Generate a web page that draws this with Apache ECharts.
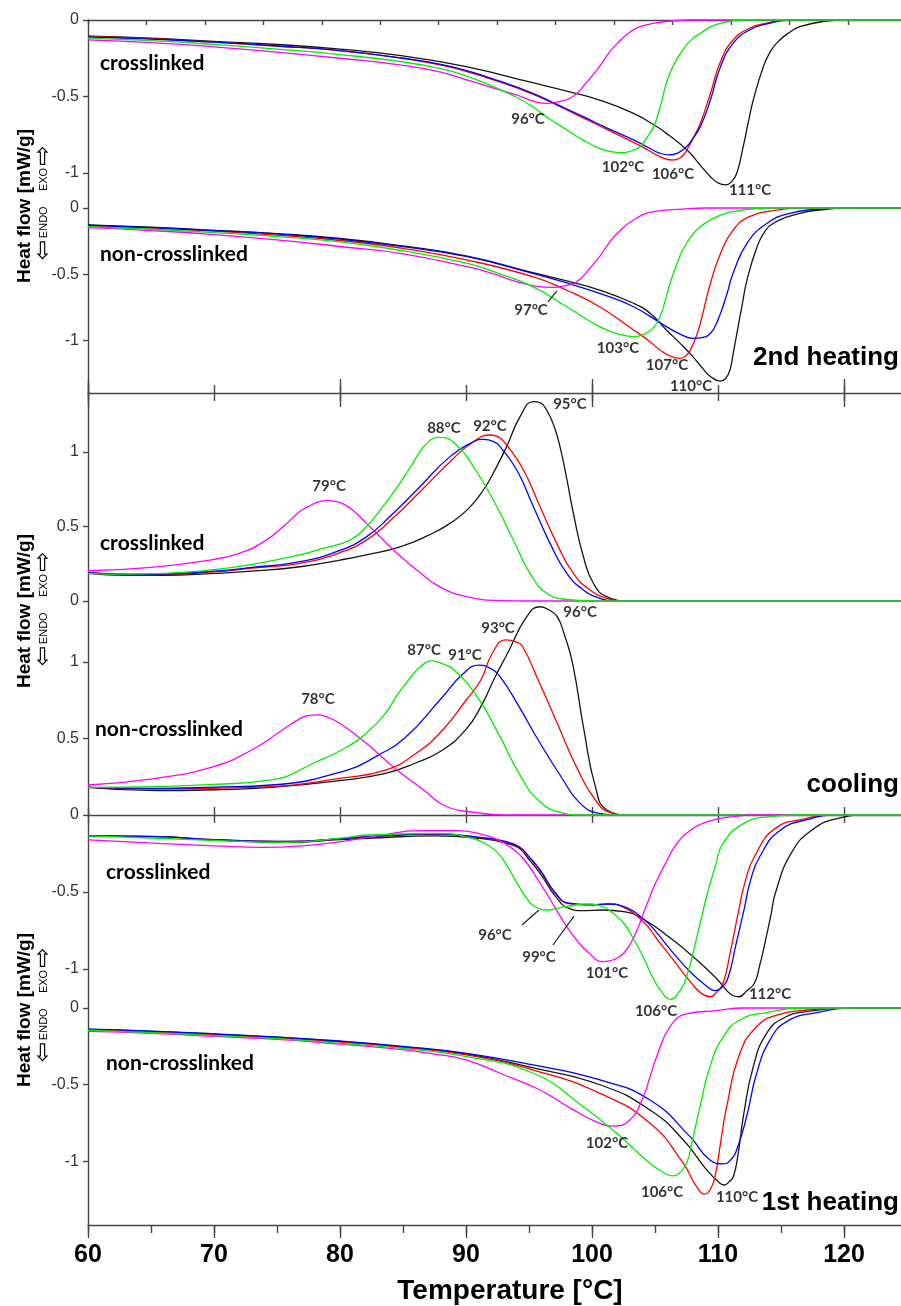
<!DOCTYPE html>
<html>
<head>
<meta charset="utf-8">
<script src="https://cdn.jsdelivr.net/npm/echarts@6/dist/echarts.min.js"></script>
<style>
  html, body { margin: 0; padding: 0; background: #ffffff; }
  #chart { width: 901px; height: 1306px; }
</style>
</head>
<body>
<div id="chart"></div>
<script>
// ---------------- DSC curves: [temperature °C, heat flow mW/g] ----------------

// 2nd heating, crosslinked
const h2cMagenta = [[60,-0.13],[65,-0.148],[70,-0.175],[75,-0.21],[80,-0.25],[85,-0.296],[88,-0.34],[90,-0.39],[92,-0.44],[94,-0.49],[95.3,-0.53],[96.3,-0.545],[97.3,-0.535],[98.5,-0.5],[99.5,-0.415],[100.6,-0.305],[101.3,-0.22],[102,-0.153],[103,-0.08],[103.8,-0.044],[105,-0.02],[106.4,-0.005],[108,0],[125,0]];
const h2cGreen = [[60,-0.118],[65,-0.135],[70,-0.16],[75,-0.19],[80,-0.226],[85,-0.274],[88,-0.318],[90,-0.365],[92,-0.43],[94,-0.505],[95.3,-0.567],[96.6,-0.645],[98,-0.719],[99.3,-0.785],[100.6,-0.839],[101.5,-0.86],[102.4,-0.867],[103.2,-0.853],[103.8,-0.828],[104.3,-0.775],[104.9,-0.697],[105.4,-0.57],[105.9,-0.414],[106.5,-0.29],[107.2,-0.196],[108,-0.12],[108.6,-0.087],[109.4,-0.045],[110.2,-0.022],[111,-0.008],[112,0],[125,0]];
const h2cBlue = [[60,-0.11],[65,-0.125],[70,-0.145],[75,-0.17],[80,-0.2],[85,-0.25],[88,-0.29],[90,-0.33],[92.5,-0.395],[95.3,-0.479],[97.3,-0.555],[99.3,-0.632],[101.3,-0.71],[103.3,-0.784],[104.5,-0.835],[105.3,-0.868],[106.1,-0.882],[106.8,-0.87],[107.5,-0.828],[108,-0.775],[108.6,-0.697],[109.4,-0.523],[110.2,-0.305],[111.2,-0.153],[112.5,-0.065],[113.9,-0.026],[115.7,0],[125,0]];
const h2cRed = [[60,-0.108],[65,-0.122],[70,-0.145],[75,-0.17],[80,-0.2],[85,-0.25],[88,-0.295],[90,-0.335],[92.5,-0.4],[95.3,-0.485],[97.3,-0.56],[99.3,-0.64],[101.3,-0.72],[103.3,-0.8],[104.5,-0.853],[105.4,-0.893],[106.3,-0.915],[107,-0.9],[107.6,-0.84],[108.1,-0.76],[108.6,-0.675],[109.4,-0.479],[110.2,-0.272],[111.2,-0.131],[112.5,-0.054],[113.9,-0.02],[115.5,0],[125,0]];
const h2cBlack = [[60,-0.105],[65,-0.118],[70,-0.14],[75,-0.16],[80,-0.19],[85,-0.235],[90,-0.305],[95.3,-0.41],[98,-0.465],[100.6,-0.523],[103.3,-0.61],[105,-0.69],[105.9,-0.741],[107,-0.81],[107.8,-0.871],[108.6,-0.95],[109.4,-1.024],[110,-1.065],[110.6,-1.078],[111.1,-1.055],[111.5,-1.0],[112,-0.828],[112.4,-0.67],[112.8,-0.523],[113.6,-0.305],[114.2,-0.2],[114.9,-0.131],[115.7,-0.08],[116.5,-0.044],[118.4,-0.009],[120,0],[125,0]];

// 2nd heating, non-crosslinked
const h2nMagenta = [[60,-0.148],[65,-0.17],[70,-0.2],[75,-0.24],[80,-0.29],[85,-0.345],[90.1,-0.442],[92,-0.49],[94,-0.555],[95.5,-0.588],[96.9,-0.598],[97.9,-0.585],[98.8,-0.555],[99.7,-0.47],[100.6,-0.367],[101.3,-0.27],[102,-0.191],[103.3,-0.09],[104.9,-0.028],[107.2,-0.008],[109,0],[125,0]];
const h2nGreen = [[60,-0.14],[65,-0.16],[70,-0.185],[75,-0.215],[80,-0.255],[85,-0.322],[90.1,-0.417],[92.5,-0.49],[95.3,-0.593],[98,-0.744],[100.6,-0.894],[102.3,-0.955],[103.3,-0.97],[104.3,-0.944],[104.9,-0.9],[105.4,-0.819],[105.8,-0.7],[106.2,-0.567],[106.7,-0.43],[107.2,-0.317],[107.9,-0.21],[108.6,-0.141],[110.2,-0.053],[112,-0.015],[114,0],[125,0]];
const h2nBlue = [[60,-0.13],[65,-0.148],[70,-0.17],[75,-0.195],[80,-0.235],[85,-0.291],[90.1,-0.367],[95.3,-0.492],[98,-0.565],[100.6,-0.643],[103.3,-0.744],[105.9,-0.894],[107,-0.95],[108,-0.982],[108.8,-0.975],[109.4,-0.944],[109.8,-0.885],[110.2,-0.794],[110.7,-0.65],[111.2,-0.492],[112.3,-0.266],[113.9,-0.115],[115.7,-0.04],[117.8,-0.01],[120,0],[125,0]];
const h2nRed = [[60,-0.135],[65,-0.152],[70,-0.175],[75,-0.205],[80,-0.245],[85,-0.304],[90.1,-0.392],[95.3,-0.518],[98,-0.62],[100.6,-0.744],[103.3,-0.919],[104.5,-1.0],[105.4,-1.07],[106.3,-1.12],[107,-1.133],[107.5,-1.11],[107.9,-1.05],[108.3,-0.96],[108.6,-0.869],[109.4,-0.567],[110.2,-0.342],[111.2,-0.166],[112.5,-0.065],[114.4,-0.02],[117,0],[125,0]];
const h2nBlack = [[60,-0.128],[65,-0.145],[70,-0.168],[75,-0.193],[80,-0.23],[85,-0.286],[90.1,-0.362],[95.3,-0.487],[98,-0.55],[100.6,-0.618],[103.3,-0.718],[104.7,-0.8],[105.9,-0.919],[107,-1.02],[108,-1.12],[108.8,-1.21],[109.4,-1.27],[110.2,-1.304],[110.6,-1.285],[110.95,-1.221],[111.2,-1.1],[111.5,-0.944],[111.9,-0.74],[112.3,-0.543],[113.1,-0.292],[113.7,-0.18],[114.4,-0.115],[116.5,-0.04],[118.6,-0.01],[120,0],[125,0]];

// cooling, crosslinked
const cocMagenta = [[60,0.203],[65,0.225],[70,0.28],[72,0.32],[74,0.4],[75.5,0.5],[76.8,0.6],[77.5,0.635],[78.3,0.665],[79,0.673],[79.7,0.667],[80.4,0.645],[81.2,0.595],[82.1,0.521],[83.2,0.43],[84.24,0.342],[85.2,0.27],[86.1,0.208],[87.9,0.096],[90.06,0.029],[92.7,0.003],[95,0],[125,0]];
const cocGreen = [[60,0.186],[63,0.18],[66,0.185],[70,0.21],[73,0.245],[76.83,0.309],[78.5,0.35],[80.8,0.409],[82.1,0.5],[83.4,0.633],[84.5,0.76],[85.6,0.901],[86.88,1.058],[87.94,1.098],[89.26,1.047],[90.59,0.901],[92.17,0.678],[93.76,0.409],[95.08,0.186],[96.4,0.052],[98,0.01],[100,0],[125,0]];
const cocBlue = [[60,0.19],[63,0.178],[66,0.18],[70,0.2],[73,0.225],[76.83,0.264],[80,0.34],[82.12,0.432],[84,0.57],[86.09,0.745],[88.73,0.969],[90.59,1.069],[91.38,1.085],[92.2,1.07],[92.7,1.036],[94.03,0.879],[95.35,0.633],[96.67,0.387],[98,0.186],[99.32,0.074],[100.64,0.018],[102,0],[125,0]];
const cocRed = [[60,0.192],[63,0.18],[66,0.178],[70,0.195],[73,0.22],[76.83,0.253],[80,0.325],[82.12,0.41],[84,0.54],[86.09,0.711],[88.73,0.935],[90.59,1.069],[91.9,1.114],[92.6,1.1],[93.23,1.047],[94.56,0.879],[95.88,0.633],[97.2,0.387],[98.52,0.186],[99.85,0.074],[101.17,0.018],[102.5,0],[125,0]];
const cocBlack = [[60,0.186],[63,0.172],[66,0.172],[70,0.185],[73,0.2],[76.83,0.23],[80,0.275],[82.1,0.31],[84.77,0.364],[87,0.44],[88.73,0.521],[90.2,0.62],[91.38,0.745],[92.3,0.88],[93.23,1.036],[94.29,1.237],[95.35,1.338],[95.9,1.33],[96.4,1.282],[97,1.17],[97.46,1.036],[98,0.82],[98.52,0.589],[99.32,0.297],[100.11,0.119],[101.17,0.029],[103,0],[125,0]];

// cooling, non-crosslinked
const conMagenta = [[60,0.196],[65.43,0.24],[69.97,0.316],[72.99,0.425],[75.43,0.556],[76.94,0.635],[77.6,0.651],[78.2,0.655],[78.9,0.643],[79.97,0.6],[82.09,0.469],[84.21,0.316],[86.64,0.163],[88.46,0.054],[90.88,0.015],[93,0],[125,0]];
const conGreen = [[60,0.18],[65.43,0.185],[70,0.2],[74.52,0.229],[78.15,0.348],[80.58,0.446],[82.3,0.55],[83.61,0.665],[84.5,0.78],[85.43,0.882],[86.4,0.97],[87.3,1.007],[88.1,0.99],[89.06,0.948],[90.88,0.773],[92.7,0.512],[94.21,0.272],[95.73,0.098],[97.55,0.015],[99,0],[125,0]];
const conBlue = [[60,0.18],[65.43,0.174],[70,0.182],[74.52,0.196],[80.58,0.294],[83,0.39],[85.12,0.501],[88.15,0.773],[89.67,0.915],[91.03,0.98],[91.9,0.96],[92.7,0.904],[94.21,0.708],[95.73,0.49],[97.55,0.25],[99.06,0.076],[100.58,0.011],[102,0],[125,0]];
const conRed = [[60,0.182],[65.43,0.17],[70,0.175],[74.52,0.185],[80,0.24],[83.61,0.294],[86,0.4],[88.15,0.556],[90,0.75],[91.18,0.882],[92.09,1.057],[93.15,1.144],[94,1.13],[94.5,1.1],[95.73,0.882],[97.24,0.6],[98.76,0.316],[100.27,0.098],[101.49,0.015],[103,0],[125,0]];
const conBlack = [[60,0.18],[65.43,0.159],[70,0.165],[74.52,0.18],[80,0.225],[83.61,0.272],[86,0.34],[88.15,0.425],[90,0.56],[91.18,0.708],[92.3,0.9],[93.3,1.057],[94.82,1.296],[95.88,1.361],[96.6,1.34],[97.24,1.296],[97.8,1.18],[98.46,0.991],[99.36,0.556],[100.27,0.185],[101.18,0.033],[103,0],[125,0]];

// 1st heating, crosslinked
const h1cMagenta = [[60,-0.162],[65.59,-0.184],[70,-0.2],[73.89,-0.21],[77,-0.2],[80.11,-0.173],[83,-0.135],[86.34,-0.102],[89.24,-0.102],[91,-0.12],[92.56,-0.162],[93.7,-0.22],[94.64,-0.292],[95.7,-0.42],[96.71,-0.552],[97.8,-0.7],[98.78,-0.812],[99.8,-0.9],[100.86,-0.952],[101.7,-0.94],[102.52,-0.898],[103.4,-0.78],[104.18,-0.617],[105,-0.45],[105.84,-0.314],[106.6,-0.2],[107.5,-0.119],[109.16,-0.043],[111.23,-0.01],[113,0],[125,0]];
const h1cGreen = [[60,-0.136],[65.59,-0.151],[70,-0.165],[75.96,-0.177],[80,-0.15],[82.19,-0.13],[87.58,-0.119],[90.49,-0.151],[91.6,-0.19],[92.56,-0.249],[93.4,-0.35],[94.22,-0.465],[94.9,-0.55],[95.46,-0.595],[96.5,-0.617],[97.3,-0.605],[97.95,-0.595],[99.61,-0.578],[100.86,-0.595],[101.7,-0.64],[102.52,-0.703],[103.4,-0.82],[104.18,-0.942],[104.8,-1.05],[105.42,-1.136],[106.25,-1.197],[106.9,-1.15],[107.5,-1.05],[108.3,-0.8],[109.16,-0.508],[109.8,-0.33],[110.4,-0.184],[112.06,-0.054],[114.14,-0.01],[116,0],[125,0]];
const h1cBlue = [[60,-0.136],[65.59,-0.141],[70,-0.16],[75.96,-0.171],[80,-0.155],[82.19,-0.141],[87.58,-0.123],[91.73,-0.151],[93,-0.17],[94.22,-0.206],[95,-0.27],[95.88,-0.357],[97.12,-0.508],[98.16,-0.573],[100.03,-0.584],[101.27,-0.578],[102.52,-0.595],[104.18,-0.682],[105.2,-0.77],[106.25,-0.877],[107.91,-1.028],[109.16,-1.115],[109.78,-1.141],[110.3,-1.12],[110.82,-1.05],[111.4,-0.85],[112.06,-0.617],[112.6,-0.42],[113.31,-0.271],[114.97,-0.097],[117.46,-0.022],[119,0],[125,0]];
const h1cRed = [[60,-0.136],[65.59,-0.141],[70,-0.16],[75.96,-0.172],[80,-0.155],[82.19,-0.141],[87.58,-0.125],[91.73,-0.153],[93,-0.172],[94.22,-0.21],[95,-0.275],[95.88,-0.362],[97.12,-0.512],[98.16,-0.575],[100.03,-0.584],[101.27,-0.578],[102.52,-0.6],[104.18,-0.703],[105.2,-0.81],[106.25,-0.92],[107.91,-1.093],[108.7,-1.16],[109.37,-1.18],[109.9,-1.15],[110.4,-1.093],[111,-0.88],[111.65,-0.617],[112.2,-0.42],[112.89,-0.271],[114.55,-0.087],[117.04,-0.022],[119,0],[125,0]];
const h1cBlack = [[60,-0.136],[65.59,-0.141],[70,-0.163],[75.96,-0.177],[80,-0.16],[82.19,-0.151],[87.58,-0.136],[91.73,-0.158],[93,-0.18],[94.22,-0.216],[95,-0.29],[95.88,-0.379],[97.12,-0.53],[98.16,-0.606],[99.2,-0.621],[100.86,-0.617],[102.52,-0.627],[104.18,-0.682],[106.25,-0.801],[108.33,-0.942],[109.99,-1.071],[111.1,-1.169],[111.65,-1.18],[112.3,-1.14],[112.89,-1.093],[113.3,-0.98],[113.72,-0.833],[114.2,-0.65],[114.55,-0.508],[115.8,-0.249],[117.46,-0.097],[119.53,-0.022],[122,0],[125,0]];

// 1st heating, non-crosslinked
const h1nMagenta = [[60,-0.152],[65,-0.165],[70,-0.185],[75,-0.205],[80,-0.235],[84.76,-0.269],[87.5,-0.3],[90.05,-0.339],[92.7,-0.425],[95.87,-0.534],[98.52,-0.664],[100.63,-0.751],[101.69,-0.769],[103.01,-0.73],[104.07,-0.578],[104.6,-0.45],[105.13,-0.317],[106.19,-0.122],[107.51,-0.039],[109.89,-0.017],[112,0],[125,0]];
const h1nGreen = [[60,-0.145],[65,-0.16],[70,-0.18],[75,-0.2],[80,-0.23],[84.76,-0.262],[90.05,-0.317],[95.34,-0.425],[99.31,-0.643],[101.96,-0.816],[104.6,-1.012],[105.92,-1.083],[106.45,-1.094],[107,-1.07],[107.51,-1.012],[108,-0.85],[108.57,-0.643],[109.36,-0.382],[110.42,-0.187],[111.74,-0.078],[113.86,-0.03],[117,0],[125,0]];
const h1nBlue = [[60,-0.138],[65,-0.15],[70,-0.168],[75,-0.19],[80,-0.215],[84.76,-0.248],[90.05,-0.295],[95.34,-0.371],[100.63,-0.469],[104.6,-0.599],[107.78,-0.838],[109.36,-0.99],[110.42,-1.016],[111,-0.99],[111.48,-0.925],[112.27,-0.708],[113.07,-0.425],[114.13,-0.208],[115.45,-0.089],[117.83,-0.03],[121,0],[125,0]];
const h1nRed = [[60,-0.14],[65,-0.155],[70,-0.175],[75,-0.195],[80,-0.222],[84.76,-0.254],[90.05,-0.306],[95.34,-0.404],[100.63,-0.556],[104.6,-0.751],[107.25,-1.012],[108.3,-1.164],[108.97,-1.212],[109.4,-1.18],[109.76,-1.099],[110.2,-0.88],[110.69,-0.643],[111.74,-0.295],[113.07,-0.122],[114.66,-0.046],[117.04,-0.013],[120,0],[125,0]];
const h1nBlack = [[60,-0.14],[65,-0.152],[70,-0.17],[75,-0.19],[80,-0.217],[84.76,-0.252],[90.05,-0.3],[95.34,-0.39],[100.63,-0.5],[104.6,-0.664],[107.25,-0.86],[109.1,-1.055],[110.16,-1.142],[110.5,-1.153],[110.9,-1.13],[111.22,-1.099],[111.6,-0.95],[112.01,-0.708],[112.8,-0.382],[113.86,-0.165],[115.18,-0.067],[117.3,-0.02],[121,0],[125,0]];

// peak temperature labels: [temperature, heat flow, text]
const h2cLabels = [[94.92,-0.647,'96°C'],[102.46,-0.961,'102°C'],[106.43,-1.007,'106°C'],[112.54,-1.111,'111°C']];
const h2nLabels = [[95.16,-0.769,'97°C'],[102.06,-1.055,'103°C'],[105.95,-1.183,'107°C'],[107.86,-1.341,'110°C']];
const cocLabels = [[79.13,0.772,'79°C'],[88.25,1.161,'88°C'],[91.9,1.174,'92°C'],[98.25,1.322,'95°C']];
const conLabels = [[78.25,0.758,'78°C'],[86.67,1.078,'87°C'],[89.92,1.046,'91°C'],[92.54,1.222,'93°C'],[99.05,1.327,'96°C']];
const h1cLabels = [[92.3,-0.779,'96°C'],[95.79,-0.922,'99°C'],[101.19,-1.026,'101°C'],[105.08,-1.273,'106°C'],[114.13,-1.162,'112°C']];
const h1nLabels = [[101.19,-0.879,'102°C'],[105.56,-1.199,'106°C'],[111.51,-1.231,'110°C']];

// leader lines joining a label to its shoulder
const h2nLeaders = [[[97.22,-0.625],[96.51,-0.708]]];
const h1cLeaders = [[[94.44,-0.714],[95.79,-0.617]], [[96.9,-0.844],[98.57,-0.656]]];

// y tick values of each sub-plot
const h2cTicks = [0, -0.5, -1];
const h2nTicks = [0, -0.5, -1];
const cocTicks = [0, 0.5, 1];
const conTicks = [0, 0.5, 1];
const h1cTicks = [-0.5, -1];
const h1nTicks = [0, -0.5, -1];

// ---------------- layout ----------------
const T_MIN = 60, T_MAX = 125;
const PLOT_LEFT = 88, PLOT_WIDTH = 819;
const panels = [
  { top: 20,   height: 188, min: -1.2288, max: 0,      ticks: h2cTicks,
    curves: { black: h2cBlack, red: h2cRed, blue: h2cBlue, magenta: h2cMagenta, green: h2cGreen }, labels: h2cLabels, leaders: [] },
  { top: 208,  height: 185, min: -1.3941, max: 0,      ticks: h2nTicks,
    curves: { black: h2nBlack, red: h2nRed, blue: h2nBlue, magenta: h2nMagenta, green: h2nGreen }, labels: h2nLabels, leaders: h2nLeaders },
  { top: 393,  height: 208, min: 0,       max: 1.396,  ticks: cocTicks,
    curves: { black: cocBlack, red: cocRed, blue: cocBlue, magenta: cocMagenta, green: cocGreen }, labels: cocLabels, leaders: [] },
  { top: 601,  height: 214, min: 0,       max: 1.3987, ticks: conTicks,
    curves: { black: conBlack, red: conRed, blue: conBlue, magenta: conMagenta, green: conGreen }, labels: conLabels, leaders: [] },
  { top: 815,  height: 193, min: -1.2532, max: 0,      ticks: h1cTicks,
    curves: { black: h1cBlack, red: h1cRed, blue: h1cBlue, magenta: h1cMagenta, green: h1cGreen }, labels: h1cLabels, leaders: h1cLeaders },
  { top: 1008, height: 217, min: -1.4137, max: 0,      ticks: h1nTicks,
    curves: { black: h1nBlack, red: h1nRed, blue: h1nBlue, magenta: h1nMagenta, green: h1nGreen }, labels: h1nLabels, leaders: [] }
];

const COLORS = { black: '#151515', red: '#ff0000', blue: '#0000ff', magenta: '#ff00ff', green: '#00ee00' };
const DRAW_ORDER = ['black', 'red', 'blue', 'magenta', 'green'];
const AXIS = { color: '#454545', width: 1.4 };
const SANS = '"Liberation Sans", Arial, sans-serif';
const NARROW = '"Liberation Sans Narrow", "Arial Narrow", "Liberation Sans", sans-serif';
const LABEL_FONT = 'Lato, "Open Sans", sans-serif';

// x axes: one data axis per grid plus decorative tick rows
function tAxis(grid, position, extra) {
  const base = {
    type: 'value', gridIndex: grid, position: position, min: T_MIN, max: T_MAX,
    axisLine: { show: false, onZero: false, lineStyle: AXIS },
    axisTick: { show: false },
    axisLabel: { show: false },
    splitLine: { show: false },
    minorTick: { show: false }
  };
  return Object.assign(base, extra || {});
}
const lineOn = { show: true, onZero: false, lineStyle: AXIS };
const xAxis = [
  tAxis(0, 'bottom', { show: false }),                                                           // 0 data, 2nd heating crosslinked
  { type: 'value', gridIndex: 0, position: 'top', min: 0, max: 14.01, interval: 1,               // 1 top frame line
    axisLine: lineOn, axisTick: { show: true, inside: true, length: 5, lineStyle: AXIS },
    axisLabel: { show: false }, splitLine: { show: false } },
  tAxis(1, 'bottom', { interval: 20, axisLine: lineOn,
    axisTick: { show: true, inside: false, length: 14, lineStyle: AXIS } }),                    // 2 data, 2nd heating non-crosslinked
  tAxis(1, 'bottom', { interval: 10, axisTick: { show: true, inside: false, length: 8, lineStyle: AXIS } }), // 3
  tAxis(2, 'top', { interval: 20, axisTick: { show: true, inside: false, length: 14, lineStyle: AXIS } }),   // 4 data, cooling crosslinked
  tAxis(2, 'top', { interval: 10, axisTick: { show: true, inside: false, length: 8, lineStyle: AXIS } }),    // 5
  tAxis(3, 'bottom', { interval: 10, axisLine: lineOn,
    axisTick: { show: true, inside: false, length: 8, lineStyle: AXIS } }),                     // 6 data, cooling non-crosslinked
  tAxis(4, 'top', { interval: 10, axisTick: { show: true, inside: false, length: 8, lineStyle: AXIS } }),    // 7 data, 1st heating crosslinked
  tAxis(5, 'bottom', { interval: 10, axisLine: lineOn,
    axisTick: { show: true, inside: false, length: 13, lineStyle: AXIS },
    axisLabel: { show: true, showMaxLabel: false, margin: 18, fontFamily: NARROW, fontWeight: 'bold',
      fontSize: 25, color: '#000' } }),                                                          // 8 data, 1st heating non-crosslinked
  tAxis(5, 'bottom', { interval: 5, axisTick: { show: true, inside: false, length: 8, lineStyle: AXIS } })   // 9
];
const dataXAxis = [0, 2, 4, 6, 7, 8];

const grid = panels.map(p => ({
  left: PLOT_LEFT, top: p.top, width: PLOT_WIDTH, height: p.height,
  containLabel: false, outerBoundsMode: 'none'
}));

const yAxis = panels.map((p, i) => ({
  type: 'value', gridIndex: i, position: 'left', min: p.min, max: p.max,
  axisLine: { show: true, onZero: false, lineStyle: AXIS },
  axisTick: { show: true, inside: false, length: 5, customValues: p.ticks, lineStyle: AXIS },
  axisLabel: { show: true, customValues: p.ticks, margin: 9, fontFamily: SANS, fontSize: 16, color: '#333' },
  splitLine: { show: false }
}));

const series = [];
panels.forEach((p, i) => {
  DRAW_ORDER.forEach(name => {
    series.push({
      type: 'line', xAxisIndex: dataXAxis[i], yAxisIndex: i, data: p.curves[name],
      symbol: 'none', showSymbol: false, smooth: 0.5, clip: false,
      lineStyle: { color: COLORS[name], width: 1.3 }, silent: true, z: 3
    });
  });
  p.leaders.forEach(seg => {
    series.push({
      type: 'line', xAxisIndex: dataXAxis[i], yAxisIndex: i, data: seg, symbol: 'none',
      clip: false, lineStyle: { color: '#222', width: 1.2 }, silent: true, z: 4
    });
  });
  series.push({
    type: 'scatter', xAxisIndex: dataXAxis[i], yAxisIndex: i, data: p.labels,
    symbolSize: 1, itemStyle: { color: 'rgba(0,0,0,0)' }, clip: false, silent: true, z: 5,
    label: { show: true, position: 'inside', formatter: d => d.value[2],
      fontFamily: LABEL_FONT, fontWeight: 'bold', fontSize: 15, color: '#000' }
  });
});

// ---------------- titles and annotations ----------------
function txt(x, y, text, font, align, rotation, extra) {
  return Object.assign({
    type: 'text', x: x, y: y, rotation: rotation || 0, silent: true, z: 10,
    style: { text: text, font: font, fill: '#000', align: align, textAlign: align,
      verticalAlign: 'middle', textVerticalAlign: 'middle' }
  }, extra || {});
}
const graphic = [];
[[206, 203], [611, 609], [1010, 1005]].forEach(([cy, ey]) => {
  graphic.push(txt(25, cy, 'Heat flow [mW/g]', 'bold 19px ' + SANS, 'center', Math.PI / 2));
  graphic.push({
    type: 'text', x: 44, y: ey, rotation: Math.PI / 2, silent: true, z: 10,
    style: {
      text: '{a|⇦}{t|ENDO     EXO}{a|⇨}', align: 'center', textAlign: 'center',
      verticalAlign: 'middle', textVerticalAlign: 'middle', fill: '#000',
      rich: {
        a: { fontSize: 24, fontFamily: '"DejaVu Sans", sans-serif', fill: '#000' },
        t: { fontSize: 11, fontFamily: NARROW, fill: '#000', padding: [0, 2, 0, 2] }
      }
    }
  });
});
const subFont = 'bold 21px ' + LABEL_FONT;
graphic.push(txt(100, 63, 'crosslinked', subFont, 'left'));
graphic.push(txt(100, 254, 'non-crosslinked', subFont, 'left'));
graphic.push(txt(100, 543, 'crosslinked', subFont, 'left'));
graphic.push(txt(95, 729, 'non-crosslinked', subFont, 'left'));
graphic.push(txt(106, 872, 'crosslinked', subFont, 'left'));
graphic.push(txt(106, 1063, 'non-crosslinked', subFont, 'left'));
const headFont = 'bold 26px ' + SANS;
graphic.push(txt(899, 358, '2nd heating', headFont, 'right'));
graphic.push(txt(899, 785, 'cooling', headFont, 'right'));
graphic.push(txt(899, 1203, '1st heating', headFont, 'right'));
graphic.push(txt(510, 1291, 'Temperature [°C]', 'bold 28px ' + SANS, 'center'));

const chart = echarts.init(document.getElementById('chart'), null, { renderer: 'canvas' });
chart.setOption({
  animation: false,
  backgroundColor: '#ffffff',
  grid: grid,
  xAxis: xAxis,
  yAxis: yAxis,
  series: series,
  graphic: graphic
});
</script>
</body>
</html>
